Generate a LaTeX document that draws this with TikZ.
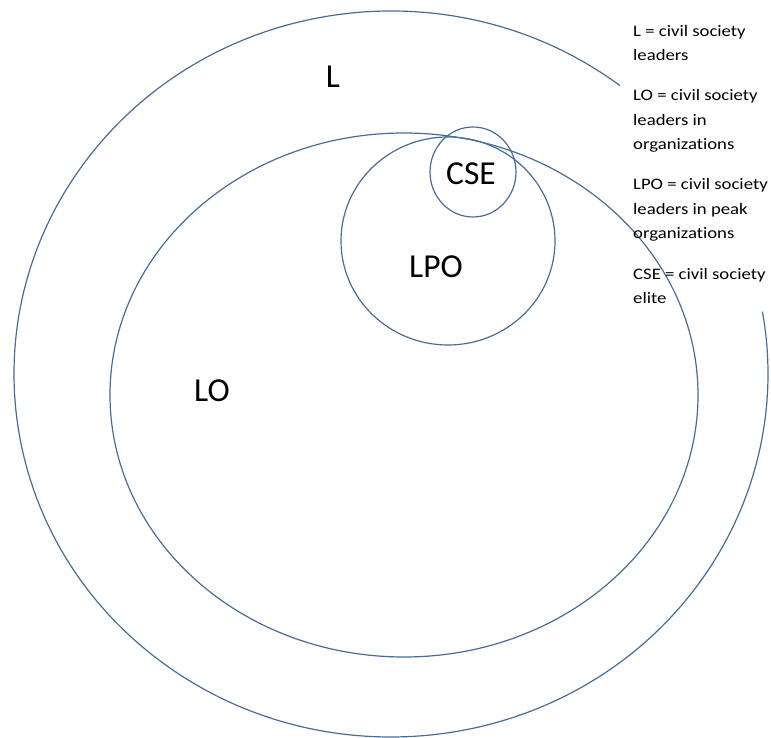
\documentclass[tikz,border=0pt]{standalone}
\usepackage{fontspec}
\setmainfont{Carlito}[Ligatures=NoCommon]
\newfontfamily\legendfont{Carlito}[Ligatures=NoCommon,FakeStretch=1.17]
\definecolor{ring}{RGB}{72,108,152}
\begin{document}
\begin{tikzpicture}[x=1pt,y=1pt,
  ringline/.style={draw=ring,line width=1.2pt},
  biglabel/.style={font=\fontsize{33.5}{36}\selectfont,inner sep=0pt},
  legend/.style={font=\legendfont\fontsize{16}{24.6}\selectfont,inner sep=0pt,anchor=base west,align=left}]
\useasboundingbox (0,0) rectangle (771,738);
% outer ellipse L with a gap at the upper right
\draw[ringline] ([shift={(52.6:377 and 363)}]391,364) arc[start angle=52.6,end angle=369.9,x radius=377,y radius=363];
% inner ellipse LO
\draw[ringline] (404,343) ellipse[x radius=294,y radius=262];
% LPO circle
\draw[ringline] (448,497) ellipse[x radius=107,y radius=104];
% CSE circle
\draw[ringline] (473,566) ellipse[x radius=43,y radius=45];
% labels
\node[biglabel] (lL) at (333,661) {L};
\node[biglabel] (lLPO) at (436,471) {LPO};
\node[biglabel] (lLO) at (212,347) {LO};
\node[biglabel] (lCSE) at (471,564) {CSE};
% legend (anchor = baseline of last line)
\node[legend] (k1) at (633,677) {L = civil society\\leaders};
\node[legend] (k2) at (633,588) {LO = civil society\\leaders in\\organizations};
\node[legend] (k3) at (633,499) {LPO = civil society\\leaders in peak\\organizations};
\node[legend] (k4) at (633,434) {CSE = civil society\\elite};
\end{tikzpicture}
\end{document}
